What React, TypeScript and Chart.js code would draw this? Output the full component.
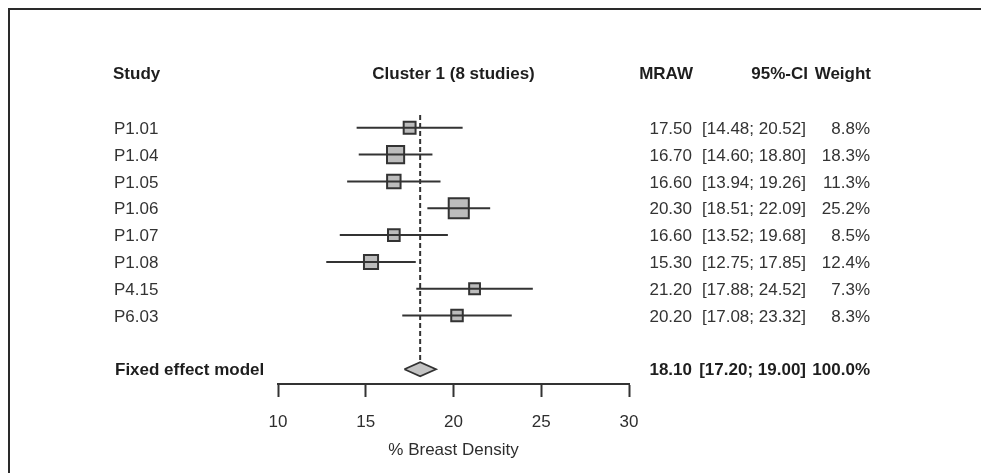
import { useEffect, useRef } from "react";
import { Chart, registerables } from "chart.js";

Chart.register(...registerables);

// ---- data ----
const studies = ["P1.01", "P1.04", "P1.05", "P1.06", "P1.07", "P1.08", "P4.15", "P6.03"];
const mraw = [17.5, 16.7, 16.6, 20.3, 16.6, 15.3, 21.2, 20.2];
const ciLow = [14.48, 14.6, 13.94, 18.51, 13.52, 12.75, 17.88, 17.08];
const ciHigh = [20.52, 18.8, 19.26, 22.09, 19.68, 17.85, 24.52, 23.32];
const weights = [8.8, 18.3, 11.3, 25.2, 8.5, 12.4, 7.3, 8.3];

const fixedLabel = "Fixed effect model";
const fixedEst = [18.1];
const fixedLow = [17.2];
const fixedHigh = [19.0];
const fixedWeight = [100.0];

const xTicks = [10, 15, 20, 25, 30];
const headers = ["Study", "Cluster 1 (8 studies)", "MRAW", "95%-CI", "Weight"];
const axisTitle = "% Breast Density";

const FONT = "'Liberation Sans', Arial, sans-serif";
const HEADER_ROW = -1.05;
const FIXED_ROW = 10;

export default function App() {
  const ref = useRef<HTMLCanvasElement | null>(null);

  useEffect(() => {
    const canvas = ref.current;
    if (!canvas) return;

    const ciData: any[] = [];
    studies.forEach((_, i) => {
      ciData.push({ x: ciLow[i], y: i + 1 });
      ciData.push({ x: ciHigh[i], y: i + 1 });
      ciData.push({ x: NaN, y: NaN });
    });

    const est = fixedEst[0];
    const lo = fixedLow[0];
    const hi = fixedHigh[0];
    const dh = 0.26;

    const framePlugin = {
      id: "frame",
      beforeDraw(chart: any) {
        const c = chart.ctx;
        c.save();
        c.fillStyle = "#ffffff";
        c.fillRect(0, 0, chart.width, chart.height);
        c.strokeStyle = "#2a2a2a";
        c.lineWidth = 2;
        c.beginPath();
        c.moveTo(9, chart.height);
        c.lineTo(9, 9);
        c.lineTo(chart.width, 9);
        c.stroke();
        c.restore();
      },
    };

    const textPlugin = {
      id: "tableText",
      afterDraw(chart: any) {
        const c = chart.ctx;
        const ys = chart.scales.y;
        const xs = chart.scales.x;
        c.save();
        c.textBaseline = "middle";
        const put = (t: string, x: number, y: number, align: CanvasTextAlign, bold: boolean, color: string) => {
          c.font = `${bold ? "bold " : ""}17px ${FONT}`;
          c.fillStyle = color;
          c.textAlign = align;
          c.fillText(t, x, y + 1.5);
        };
        // header
        const hy = ys.getPixelForValue(HEADER_ROW);
        put(headers[0], 113, hy, "left", true, "#1e1e1e");
        put(headers[1], xs.getPixelForValue(20), hy, "center", true, "#1e1e1e");
        put(headers[2], 693, hy, "right", true, "#1e1e1e");
        put(headers[3], 808, hy, "right", true, "#1e1e1e");
        put(headers[4], 871, hy, "right", true, "#1e1e1e");
        // studies
        studies.forEach((s, i) => {
          const y = ys.getPixelForValue(i + 1);
          put(s, 114, y, "left", false, "#333");
          put(mraw[i].toFixed(2), 692, y, "right", false, "#333");
          put(`[${ciLow[i].toFixed(2)}; ${ciHigh[i].toFixed(2)}]`, 806, y, "right", false, "#333");
          put(`${weights[i].toFixed(1)}%`, 870, y, "right", false, "#333");
        });
        // fixed
        const fy = ys.getPixelForValue(FIXED_ROW);
        put(fixedLabel, 115, fy, "left", true, "#1e1e1e");
        put(est.toFixed(2), 692, fy, "right", true, "#1e1e1e");
        put(`[${lo.toFixed(2)}; ${hi.toFixed(2)}]`, 806, fy, "right", true, "#1e1e1e");
        put(`${fixedWeight[0].toFixed(1)}%`, 870, fy, "right", true, "#1e1e1e");
        c.restore();
      },
    };

    const chart = new Chart(canvas, {
      type: "scatter",
      data: {
        datasets: [
          {
            data: ciData,
            showLine: true,
            spanGaps: false,
            borderColor: "#333",
            borderWidth: 2,
            pointRadius: 0,
          } as any,
          {
            data: [
              { x: est, y: 0.52 },
              { x: est, y: FIXED_ROW - dh - 0.05 },
            ],
            showLine: true,
            borderColor: "#333",
            borderWidth: 2,
            borderDash: [5, 3],
            pointRadius: 0,
          } as any,
          {
            data: mraw.map((m, i) => ({ x: m, y: i + 1 })),
            showLine: false,
            pointStyle: "rect",
            pointRadius: (ctx: any) => 2.83 * Math.sqrt(weights[ctx.dataIndex] ?? 1),
            pointBackgroundColor: "#bcbcbc",
            pointBorderColor: "#333",
            pointBorderWidth: 2,
          } as any,
          {
            data: mraw.map((m, i) => ({ x: m, y: i + 1 })),
            showLine: false,
            pointStyle: "rect",
            pointRadius: 1.3,
            pointBackgroundColor: "#555",
            pointBorderWidth: 0,
          } as any,
          {
            data: [
              { x: lo, y: FIXED_ROW },
              { x: est, y: FIXED_ROW - dh },
              { x: hi, y: FIXED_ROW },
              { x: est, y: FIXED_ROW + dh },
              { x: lo, y: FIXED_ROW },
            ],
            showLine: true,
            fill: "shape",
            backgroundColor: "#c4c4c4",
            borderColor: "#333",
            borderWidth: 1.8,
            pointRadius: 0,
          } as any,
        ],
      },
      options: {
        animation: false,
        responsive: false,
        maintainAspectRatio: false,
        layout: { padding: { left: 278, right: 352, top: 47.3, bottom: 0 } },
        plugins: {
          legend: { display: false },
          tooltip: { enabled: false },
        },
        scales: {
          x: {
            type: "linear",
            min: 10,
            max: 30,
            position: "bottom",
            afterFit: (s: any) => {
              s.height = 89;
            },
            afterBuildTicks: (s: any) => {
              s.ticks = xTicks.map((v) => ({ value: v }));
            },
            ticks: {
              font: { family: FONT, size: 17 },
              color: "#2e2e2e",
              padding: 15,
              maxRotation: 0,
              autoSkip: false,
            },
            grid: {
              drawOnChartArea: false,
              drawTicks: true,
              tickLength: 13,
              tickColor: "#333",
              tickWidth: 2,
            },
            border: { display: true, color: "#333", width: 2 },
            title: {
              display: true,
              text: axisTitle,
              font: { family: FONT, size: 17 },
              color: "#2e2e2e",
              padding: { top: 0, bottom: 12 },
            },
          },
          y: {
            type: "linear",
            min: -2,
            max: 10.55,
            reverse: true,
            display: false,
          },
        },
      } as any,
      plugins: [framePlugin, textPlugin],
    });

    return () => chart.destroy();
  }, []);

  return (
    <div style={{ position: "fixed", left: 0, top: 0, width: 981, height: 473 }}>
      <canvas ref={ref} width={981} height={473} style={{ display: "block", width: 981, height: 473 }} />
    </div>
  );
}
